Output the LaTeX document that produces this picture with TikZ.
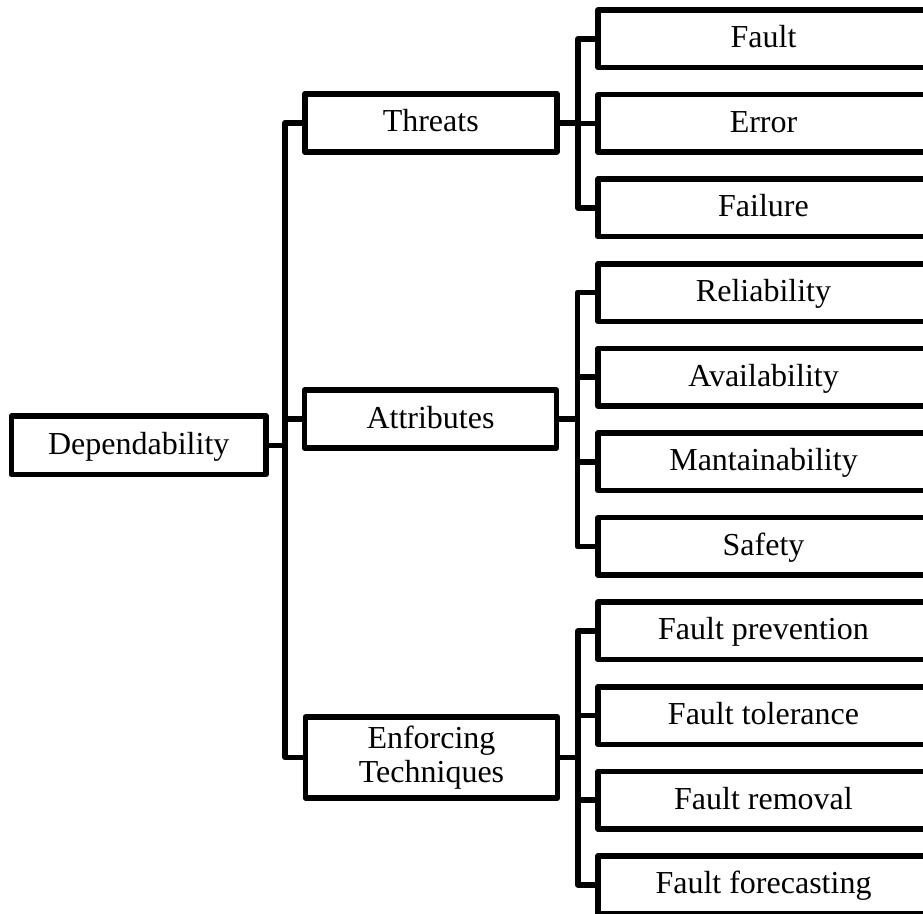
\documentclass[tikz,border=0pt]{standalone}
\usepackage{fontspec}
\setmainfont{Liberation Serif}
\begin{document}
\begin{tikzpicture}[x=1pt,y=-1pt,
  box/.style={draw, line width=5.5pt, line join=round, rectangle, inner sep=0pt,
    align=center, text height=22pt, text depth=4pt,
    font=\fontsize{32}{34}\selectfont},
  midbox/.style={box, minimum width=252pt, minimum height=58pt},
  leafbox/.style={box, minimum width=331pt, minimum height=57.5pt},
  wire/.style={line width=5.5pt, line join=round}]
\useasboundingbox (0,0) rectangle (923,913);
\clip (0,0) rectangle (923,913);

% root
\node[box, minimum width=254.5pt, minimum height=58.5pt] (dep) at (138.75,445.25) {Dependability};

% second level
\node[midbox] (thr) at (430.75,122.75) {Threats};
\node[midbox] (att) at (430.5,419) {Attributes};
\node[midbox, minimum height=81pt, text height={}, text depth={}] (enf) at (431.5,757.5) {Enforcing\\Techniques};

% leaves
\foreach \name/\txt [count=\i from 0] in {
  fault/Fault, error/Error, failure/Failure,
  rel/Reliability, avail/Availability, maint/Mantainability, safe/Safety,
  prev/Fault prevention, tol/Fault tolerance, rem/Fault removal, fore/Fault forecasting}
  \node[leafbox] (\name) at (763.5, 10+84.6*\i+28.75) {\txt};

% junctions
\coordinate (jr) at (285,445.25);
\coordinate (jt) at (578,122.75);
\coordinate (ja) at (577.5,419);
\coordinate (je) at (578,757.5);

% root bracket
\draw[wire] (dep.east) -- (jr);
\draw[wire] (thr.west) -| (jr) |- (enf.west);
\draw[wire] (att.west) -- (att.west -| jr);

% threats bracket
\draw[wire] (thr.east) -- (jt);
\draw[wire] (fault.west) -| (jt) |- (failure.west);
\draw[wire] (error.west) -- (error.west -| jt);

% attributes bracket
\draw[wire] (att.east) -- (ja);
\draw[wire] (rel.west) -| (ja) |- (safe.west);
\draw[wire] (avail.west) -- (avail.west -| ja);
\draw[wire] (maint.west) -- (maint.west -| ja);

% enforcing techniques bracket
\draw[wire] (enf.east) -- (je);
\draw[wire] (prev.west) -| (je) |- (fore.west);
\draw[wire] (tol.west) -- (tol.west -| je);
\draw[wire] (rem.west) -- (rem.west -| je);
\end{tikzpicture}
\end{document}
